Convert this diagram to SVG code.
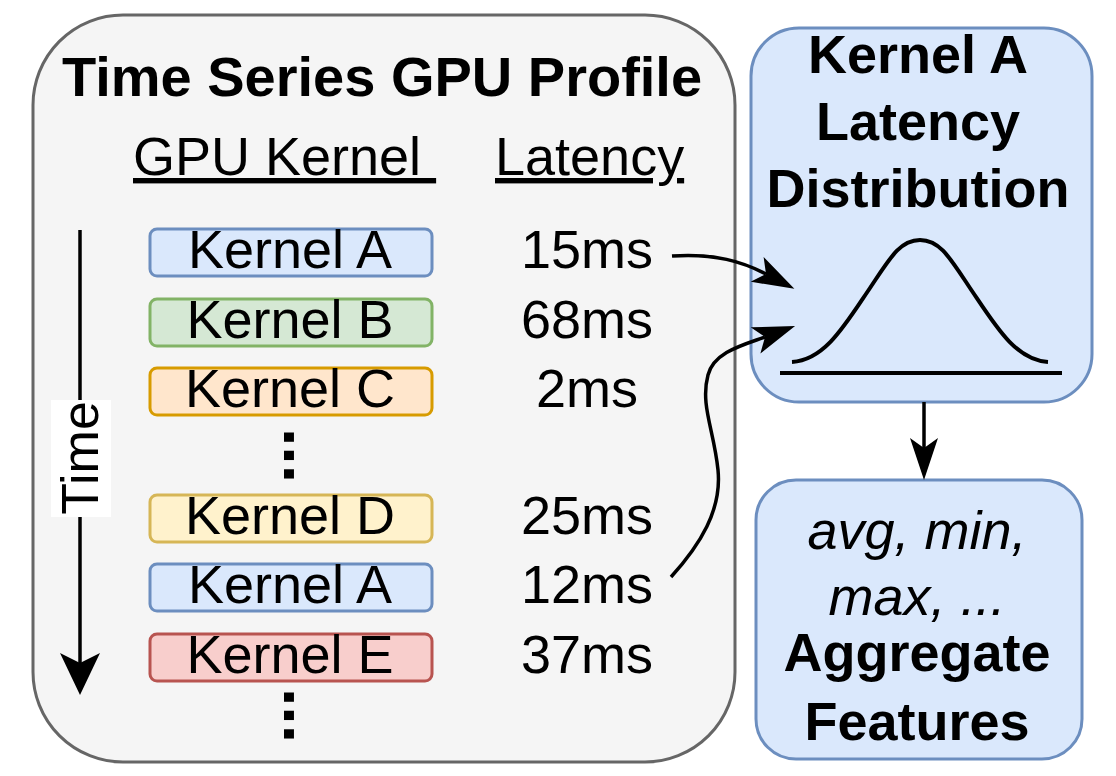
<svg xmlns="http://www.w3.org/2000/svg" width="1116" height="776" viewBox="0 0 1116 776">
<style>
text{font-family:"Liberation Sans",Arial,Helvetica,sans-serif;fill:#000}
.t54{font-size:54px}
.b{font-weight:bold}
.it{font-style:italic}
.mid{text-anchor:middle}
.kb{stroke-width:3}
.line{fill:none;stroke:#000;stroke-width:3.5}
</style>
<defs>
<marker id="headN" viewBox="0 0 42 28" markerUnits="userSpaceOnUse" markerWidth="42" markerHeight="28" refX="10" refY="14" orient="auto">
<path d="M0,0 L42,14 L0,28 L10,14 Z" fill="#000"/>
</marker>
<marker id="headW" viewBox="0 0 42 40" markerUnits="userSpaceOnUse" markerWidth="42" markerHeight="40" refX="10" refY="20" orient="auto">
<path d="M0,0 L42,20 L0,40 L10,20 Z" fill="#000"/>
</marker>
</defs>
<rect width="1116" height="776" fill="#fff"/>

<g id="profile">
<rect x="33" y="15" width="702" height="747" rx="90" ry="90" fill="#f5f5f5" stroke="#666666" stroke-width="3"/>
<text class="b mid" x="382" y="96" font-size="56">Time Series GPU Profile</text>
<text class="t54" x="133" y="175" text-decoration="underline">GPU Kernel&#160;</text>
<text class="t54" x="495" y="175" text-decoration="underline">Latency</text>
</g>

<g id="time-axis">
<path class="line" d="M80,230 L80,663" marker-end="url(#headW)"/>
<rect x="51" y="400" width="60" height="117" fill="#fff"/>
<text class="mid" font-size="52" transform="translate(98,458) rotate(-90)">Time</text>
</g>

<g id="kernel-a1">
<rect class="kb" x="150" y="229" width="282" height="47" rx="7" fill="#dae8fc" stroke="#6c8ebf"/>
<text class="t54 mid" x="290" y="268">Kernel A</text>
</g>
<g id="kernel-b">
<rect class="kb" x="150" y="299" width="282" height="47" rx="7" fill="#d5e8d4" stroke="#82b366"/>
<text class="t54 mid" x="290" y="338">Kernel B</text>
</g>
<g id="kernel-c">
<rect class="kb" x="150" y="368" width="282" height="47" rx="7" fill="#ffe6cc" stroke="#d79b00"/>
<text class="t54 mid" x="290" y="407">Kernel C</text>
</g>
<g id="dots-1">
<text class="b" font-size="66" transform="translate(284,428) rotate(90)">...</text>
</g>
<g id="kernel-d">
<rect class="kb" x="150" y="495" width="282" height="47" rx="7" fill="#fff2cc" stroke="#d6b656"/>
<text class="t54 mid" x="290" y="534">Kernel D</text>
</g>
<g id="kernel-a2">
<rect class="kb" x="150" y="564" width="282" height="47" rx="7" fill="#dae8fc" stroke="#6c8ebf"/>
<text class="t54 mid" x="290" y="603">Kernel A</text>
</g>
<g id="kernel-e">
<rect class="kb" x="150" y="634" width="282" height="47" rx="7" fill="#f8cecc" stroke="#b85450"/>
<text class="t54 mid" x="290" y="673">Kernel E</text>
</g>
<g id="dots-2">
<text class="b" font-size="66" transform="translate(284,688) rotate(90)">...</text>
</g>

<g id="latencies">
<text class="t54 mid" x="587" y="268">15ms</text>
<text class="t54 mid" x="587" y="338">68ms</text>
<text class="t54 mid" x="587" y="407">2ms</text>
<text class="t54 mid" x="587" y="534">25ms</text>
<text class="t54 mid" x="587" y="603">12ms</text>
<text class="t54 mid" x="587" y="673">37ms</text>
</g>

<g id="distribution">
<rect x="751" y="28" width="341" height="374" rx="48" ry="48" fill="#dae8fc" stroke="#6c8ebf" stroke-width="3"/>
<text class="t54 b mid" x="918" y="73">Kernel A</text>
<text class="t54 b mid" x="918" y="140">Latency</text>
<text class="t54 b mid" x="918" y="207">Distribution</text>
<path d="M792,362 C825,360 845,325 870,288 C890,258 900,240 920,240 C940,240 950,258 970,288 C995,325 1015,360 1048,362" fill="none" stroke="#000" stroke-width="4"/>
<line x1="780" y1="373" x2="1062" y2="373" stroke="#000" stroke-width="4"/>
</g>

<g id="aggregate">
<rect x="756" y="480" width="326" height="279" rx="40" ry="40" fill="#dae8fc" stroke="#6c8ebf" stroke-width="3"/>
<text class="t54 it mid" x="917" y="549">avg, min,</text>
<text class="t54 it mid" x="917" y="615">max, ...</text>
<text class="t54 b mid" x="917" y="671">Aggregate</text>
<text class="t54 b mid" x="917" y="740">Features</text>
</g>

<g id="connectors">
<path class="line" d="M672,256 C715,253 743,262 766,274" marker-end="url(#headN)"/>
<path class="line" d="M671,577 C700,545 722,510 718,470 C714,430 700,405 708,375 C714,352 743,345 765,337" marker-end="url(#headN)"/>
<path class="line" d="M924,402 L924,448" marker-end="url(#headN)"/>
</g>
</svg>
